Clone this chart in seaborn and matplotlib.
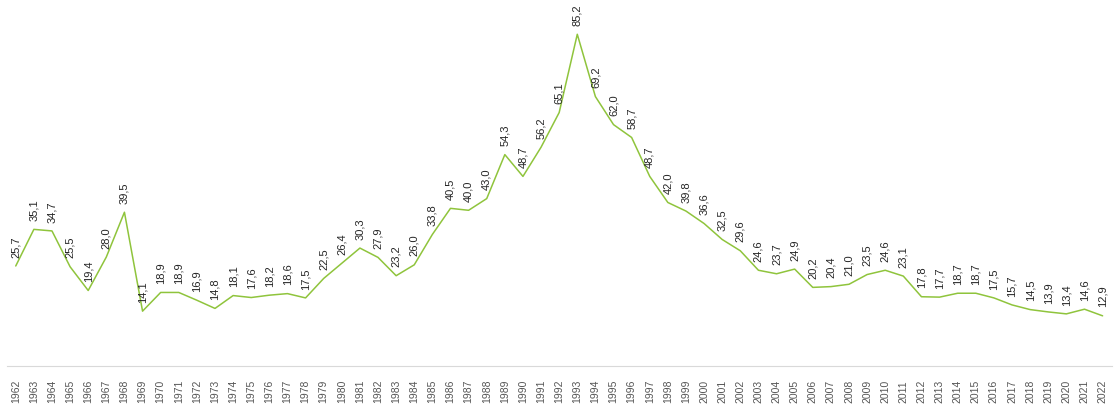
import numpy as np
import pandas as pd
import seaborn as sns
import matplotlib.pyplot as plt

# data
years = list(range(1962, 2023))
values = [25.7, 35.1, 34.7, 25.5, 19.4, 28.0, 39.5, 14.1, 18.9, 18.9,
          16.9, 14.8, 18.1, 17.6, 18.2, 18.6, 17.5, 22.5, 26.4, 30.3,
          27.9, 23.2, 26.0, 33.8, 40.5, 40.0, 43.0, 54.3, 48.7, 56.2,
          65.1, 85.2, 69.2, 62.0, 58.7, 48.7, 42.0, 39.8, 36.6, 32.5,
          29.6, 24.6, 23.7, 24.9, 20.2, 20.4, 21.0, 23.5, 24.6, 23.1,
          17.8, 17.7, 18.7, 18.7, 17.5, 15.7, 14.5, 13.9, 13.4, 14.6,
          12.9]
tick_labels = [str(y) for y in years]

df = pd.DataFrame({'Year': years, 'Value': values})

sns.set_style('white')
plt.rcParams['font.family'] = ['Liberation Sans', 'DejaVu Sans']

fig, ax = plt.subplots(figsize=(11.15, 4.09), dpi=100)
fig.subplots_adjust(left=0.006, right=0.997, top=1.0, bottom=0.105)

sns.lineplot(data=df, x='Year', y='Value', ax=ax, color='#8fc43c',
             linewidth=1.1)

# value labels above each point
for yr, v in zip(years, values):
    ax.annotate(f'{v:.1f}'.replace('.', ','), xy=(yr, v),
                xytext=(0, 6), textcoords='offset points',
                rotation=90, ha='center', va='bottom',
                fontsize=8, color='#262626')

ax.set_xlim(years[0] - 0.5, years[-1] + 0.5)
ax.set_ylim(0, 94)
ax.set_xticks(years)
ax.set_xticklabels(tick_labels, rotation=90, fontsize=7.5, color='#555555')
ax.set_yticks([])
ax.set_xlabel('')
ax.set_ylabel('')

for side in ['top', 'right', 'left']:
    ax.spines[side].set_visible(False)
ax.spines['bottom'].set_color('#d9d9d9')
ax.tick_params(axis='x', length=3, color='#d9d9d9', pad=7)

plt.savefig('out.png', dpi=100)
